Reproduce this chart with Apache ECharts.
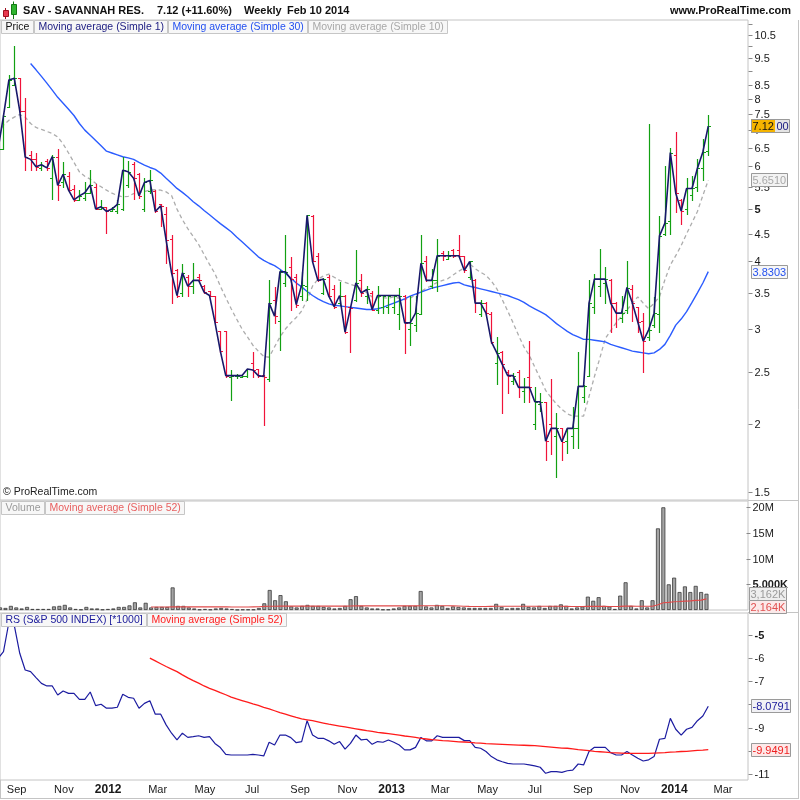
<!DOCTYPE html>
<html>
<head>
<meta charset="utf-8">
<script src="https://cdn.jsdelivr.net/npm/echarts@6.0.0/dist/echarts.min.js"></script>
<style>
html,body{margin:0;padding:0;background:#fff;}
#chart{width:800px;height:800px;}
</style>
</head>
<body>
<div id="chart"></div>
<script>
// ===================== DATA (weekly bars, first entry = week of 8 Aug 2011) =====================
const firstWeek = [2011, 7, 8];           // UTC year, month(0-based), day
const open = [
 6.2, 6.45, 7.74, 8.5, 8.73, 7.6, 6.3, 6.2, 5.95, 6.15,
 5.7, 6.25, 5.6, 5.75, 5.45, 5.2, 5.25, 5.35, 5.5, 5.0,
 5.05, 4.95, 4.95, 5.0, 5.55, 6.05, 5.8, 5.0, 5.4, 5.4,
 5.1, 4.9, 4.4, 3.85, 3.5, 3.75, 3.6, 3.75, 3.6, 3.52,
 3.46, 2.98, 2.98, 2.45, 2.46, 2.45, 2.46, 2.6, 2.53, 2.47,
 2.42, 3.4, 3.1, 3.65, 3.9, 3.75, 3.45, 3.6, 4.85, 4.1,
 3.5, 3.75, 3.55, 3.35, 3.45, 3.3, 3.4, 3.7, 3.45, 3.5,
 3.25, 3.3, 3.3, 3.3, 3.2, 3.46, 3.0, 3.05, 3.2, 4.0,
 3.6, 3.7, 4.15, 4.05, 4.2, 4.2, 4.1, 3.75, 3.7, 3.2,
 3.35, 3.2, 2.6, 2.72, 2.5, 2.4, 2.5, 2.3, 2.45, 2.0,
 2.18, 2.2, 2.0, 1.9, 1.965, 1.86, 1.9, 1.97, 2.25, 2.46,
 3.3, 3.6, 3.65, 3.7, 3.35, 3.15, 3.25, 3.55, 3.3, 3.1,
 2.9, 3.05, 3.2, 4.5, 4.75, 6.3, 5.2, 5.0, 5.3, 5.5, 5.95, 6.4
];
const high = [
 6.6, 7.45, 8.85, 10.0, 8.75, 8.03, 6.4, 6.36, 6.1, 6.2,
 6.3, 6.45, 6.1, 5.85, 5.55, 5.43, 5.6, 5.9, 5.57, 5.2,
 5.05, 5.05, 5.2, 6.25, 6.15, 6.12, 5.82, 5.7, 5.9, 5.42,
 5.12, 5.05, 4.48, 3.87, 3.95, 3.78, 3.97, 3.8, 3.62, 3.52,
 3.46, 2.98, 2.98, 2.52, 2.48, 2.47, 2.53, 2.72, 2.53, 2.47,
 3.69, 3.59, 3.85, 4.48, 4.07, 3.8, 3.83, 4.87, 4.87, 4.15,
 3.73, 3.78, 3.62, 3.67, 3.47, 3.31, 4.2, 3.8, 3.6, 3.52,
 3.6, 3.47, 3.47, 3.47, 3.58, 3.47, 3.46, 3.46, 4.48, 4.1,
 3.87, 4.4, 4.18, 4.18, 4.22, 4.48, 4.1, 4.0, 3.72, 3.4,
 3.37, 3.22, 2.9, 2.73, 2.52, 2.49, 2.52, 2.43, 2.85, 2.34,
 2.28, 2.2, 2.42, 2.1, 1.97, 1.97, 2.15, 2.72, 2.36, 3.7,
 3.8, 4.22, 3.9, 3.71, 3.36, 3.45, 4.0, 3.62, 3.3, 3.21,
 7.2, 3.44, 4.85, 6.0, 6.5, 6.95, 5.23, 5.7, 5.75, 6.2, 6.75, 7.45
];
const low = [
 6.1, 6.45, 7.74, 8.5, 7.55, 5.9, 5.9, 5.9, 5.9, 5.9,
 5.23, 5.2, 5.5, 5.4, 5.18, 5.2, 5.2, 5.35, 5.0, 5.0,
 4.52, 4.95, 4.92, 4.98, 5.5, 5.23, 5.25, 4.95, 5.36, 4.93,
 4.65, 3.97, 3.35, 3.44, 3.46, 3.46, 3.5, 3.68, 3.5, 3.45,
 3.09, 2.72, 2.45, 2.22, 2.44, 2.45, 2.45, 2.45, 2.45, 1.99,
 2.4, 3.08, 2.74, 3.6, 3.25, 3.3, 3.4, 3.4, 4.0, 3.68,
 3.48, 3.45, 3.28, 3.33, 2.95, 2.72, 3.38, 3.46, 3.35, 3.25,
 3.21, 3.21, 3.21, 3.21, 3.0, 2.71, 2.8, 2.98, 3.2, 3.68,
 3.58, 3.53, 4.02, 4.04, 4.08, 4.08, 3.82, 3.72, 3.22, 3.17,
 3.2, 2.83, 2.37, 2.1, 2.28, 2.37, 2.25, 2.2, 2.2, 1.96,
 2.12, 1.72, 1.76, 1.6, 1.72, 1.77, 1.81, 1.81, 2.2, 2.46,
 3.21, 3.46, 3.35, 2.96, 3.02, 3.09, 3.21, 3.1, 2.96, 2.5,
 2.86, 3.02, 2.96, 4.48, 4.5, 4.94, 4.7, 4.9, 5.2, 5.4, 5.65, 6.3
];
const close = [
 6.45, 7.44, 8.67, 8.73, 7.6, 6.24, 6.18, 5.99, 6.04, 5.96,
 6.25, 5.53, 5.8, 5.42, 5.2, 5.29, 5.36, 5.54, 5.0, 5.05,
 4.95, 5.0, 5.1, 5.9, 5.86, 5.7, 5.29, 5.6, 5.65, 4.95,
 5.07, 4.38, 3.81, 3.46, 3.81, 3.6, 3.69, 3.69, 3.51, 3.46,
 3.09, 2.73, 2.46, 2.46, 2.46, 2.46, 2.53, 2.52, 2.46, 2.45,
 3.35, 3.17, 3.83, 3.83, 3.71, 3.33, 3.62, 4.87, 4.0, 3.69,
 3.71, 3.45, 3.3, 3.46, 2.96, 3.28, 3.65, 3.5, 3.55, 3.26,
 3.46, 3.46, 3.46, 3.46, 3.46, 3.08, 3.08, 3.21, 3.97, 3.69,
 3.69, 4.1, 4.1, 4.1, 4.1, 4.1, 3.85, 4.0, 3.35, 3.35,
 3.21, 2.84, 2.71, 2.58, 2.46, 2.46, 2.34, 2.34, 2.34, 2.2,
 2.2, 1.86, 1.965, 1.965, 1.856, 1.965, 1.965, 2.35, 2.35, 3.35,
 3.71, 3.71, 3.71, 3.35, 3.21, 3.21, 3.58, 3.35, 3.09, 2.85,
 2.99, 3.21, 4.46, 4.71, 6.36, 5.35, 4.96, 5.46, 5.46, 5.95, 6.38, 7.12
];
// Simple moving average 30 (starts at week index 6)
const ma30Start = 6;
const ma30 = [
 9.3, 9.05, 8.8, 8.55, 8.3, 8.05, 7.85, 7.65, 7.45, 7.2,
 7.0, 6.85, 6.7, 6.55, 6.4, 6.35, 6.3, 6.25, 6.22, 6.18,
 6.1, 6.03, 5.97, 5.92, 5.83, 5.7, 5.58, 5.46, 5.37, 5.27,
 5.16, 5.07, 4.97, 4.88, 4.79, 4.7, 4.62, 4.54, 4.44, 4.35,
 4.26, 4.17, 4.08, 4.02, 3.97, 3.93, 3.87, 3.8, 3.73, 3.65,
 3.59, 3.52, 3.46, 3.41, 3.37, 3.34, 3.32, 3.31, 3.3, 3.29,
 3.28, 3.27, 3.26, 3.26, 3.27, 3.29, 3.32, 3.35, 3.38, 3.41,
 3.45, 3.48, 3.51, 3.54, 3.57, 3.59, 3.61, 3.63, 3.65, 3.66,
 3.62, 3.6, 3.58, 3.56, 3.54, 3.52, 3.5, 3.48, 3.46, 3.43,
 3.4, 3.36, 3.31, 3.27, 3.23, 3.19, 3.13, 3.07, 3.02, 2.97,
 2.93, 2.9, 2.87, 2.87, 2.86, 2.85, 2.84, 2.81, 2.79, 2.77,
 2.75, 2.73, 2.72, 2.71, 2.7, 2.71, 2.75, 2.81, 2.92, 3.05,
 3.13, 3.23, 3.36, 3.5, 3.65, 3.8303
];
// Simple moving average 10 (all weeks)
const ma10 = [
 6.9, 7.15, 7.3, 7.4, 7.48, 7.4, 7.2, 7.08, 7.02, 6.96,
 6.9, 6.8, 6.6, 6.35, 6.1, 5.86, 5.75, 5.68, 5.58, 5.5,
 5.42, 5.35, 5.3, 5.27, 5.28, 5.34, 5.37, 5.39, 5.42, 5.43,
 5.42, 5.38, 5.3, 5.0, 4.78, 4.6, 4.45, 4.3, 4.12, 3.95,
 3.8, 3.6, 3.43, 3.27, 3.13, 3.0, 2.9, 2.8, 2.73, 2.67,
 2.66, 2.78, 2.9, 3.0, 3.08, 3.15, 3.24, 3.4, 3.6, 3.71,
 3.76, 3.79, 3.74, 3.69, 3.66, 3.63, 3.6, 3.56, 3.5, 3.44,
 3.43, 3.43, 3.42, 3.44, 3.42, 3.4, 3.42, 3.47, 3.52, 3.57,
 3.61, 3.66, 3.69, 3.72, 3.78, 3.84, 3.89, 3.96, 3.88, 3.82,
 3.77, 3.68, 3.56, 3.4, 3.24, 3.08, 2.92, 2.78, 2.68, 2.55,
 2.43, 2.31, 2.24, 2.18, 2.13, 2.09, 2.07, 2.07, 2.07, 2.25,
 2.45, 2.65, 2.88, 2.98, 3.08, 3.17, 3.25, 3.35, 3.44, 3.35,
 3.27, 3.35, 3.44, 3.7, 3.94, 4.1, 4.28, 4.5, 4.72, 4.95, 5.3, 5.651
];
// Volume in millions of shares
const volumeM = [
 0.5, 0.4, 0.8, 0.5, 0.3, 0.6, 0.2, 0.2, 0.2, 0.2,
 0.7, 0.8, 1.0, 0.5, 0.2, 0.1, 0.6, 0.3, 0.3, 0.1,
 0.2, 0.3, 0.6, 0.6, 0.9, 1.5, 0.5, 1.4, 0.5, 0.6,
 0.6, 0.6, 4.4, 0.8, 0.8, 0.5, 0.3, 0.1, 0.2, 0.1,
 0.3, 0.4, 0.3, 0.2, 0.05, 0.1, 0.1, 0.1, 0.4, 1.3,
 3.9, 1.9, 2.9, 1.7, 0.7, 0.5, 0.8, 1.0, 0.8, 0.8,
 0.6, 0.5, 0.3, 0.4, 0.8, 2.1, 2.7, 0.8, 0.5, 0.3,
 0.3, 0.1, 0.1, 0.3, 0.5, 0.8, 0.8, 0.8, 3.7, 0.7,
 0.5, 1.0, 0.8, 0.4, 0.7, 0.6, 0.5, 0.4, 0.4, 0.4,
 0.4, 0.4, 1.2, 0.6, 0.3, 0.4, 0.4, 1.2, 0.6, 0.5,
 0.8, 0.4, 0.8, 0.8, 1.1, 0.8, 0.3, 0.5, 0.7, 2.6,
 1.8, 2.5, 0.8, 0.7, 0.2, 2.8, 5.4, 0.8, 0.3, 1.9,
 0.5, 1.9, 15.9, 20.0, 5.0, 6.3, 3.5, 4.6, 3.5, 4.7, 3.5, 3.162
];
// 52-week moving averages (start at week index 28)
const ma52Start = 28;
const volMa52 = [
 0.58, 0.58, 0.58, 0.58, 0.6, 0.6, 0.6, 0.6, 0.6, 0.6,
 0.6, 0.6, 0.6, 0.6, 0.6, 0.58, 0.58, 0.58, 0.58, 0.6,
 0.62, 0.7, 0.72, 0.74, 0.76, 0.76, 0.76, 0.76, 0.76, 0.76,
 0.76, 0.76, 0.76, 0.76, 0.75, 0.75, 0.76, 0.78, 0.8, 0.8,
 0.8, 0.8, 0.8, 0.8, 0.8, 0.8, 0.8, 0.8, 0.8, 0.8,
 0.82, 0.82, 0.82, 0.82, 0.82, 0.82, 0.8, 0.78, 0.74, 0.7,
 0.68, 0.68, 0.68, 0.7, 0.72, 0.72, 0.72, 0.72, 0.74, 0.74,
 0.74, 0.72, 0.72, 0.72, 0.72, 0.72, 0.72, 0.7, 0.68, 0.68,
 0.68, 0.7, 0.7, 0.7, 0.7, 0.68, 0.68, 0.7, 0.75, 0.75,
 0.74, 0.74, 0.72, 0.74, 1.03, 1.4, 1.48, 1.6, 1.65, 1.73,
 1.78, 1.87, 1.93, 2.164
];
// Relative strength vs S&P 500 (*1000)
const rs = [
 -6.01, -5.72, -4.45, -4.6, -5.79, -6.51, -6.58, -6.84, -7.09, -7.2,
 -7.2, -7.59, -7.42, -7.52, -7.52, -7.78, -7.78, -7.46, -8.05, -7.99,
 -8.16, -8.16, -8.12, -7.56, -7.69, -7.73, -8.16, -7.95, -7.84, -8.42,
 -8.42, -8.88, -9.24, -9.53, -9.24, -9.42, -9.39, -9.35, -9.42, -9.39,
 -9.68, -9.86, -10.15, -10.18, -10.18, -10.18, -10.18, -10.15, -10.18, -10.22,
 -9.63, -9.75, -9.32, -9.32, -9.43, -9.65, -9.6, -8.7, -9.32, -9.46,
 -9.46, -9.57, -9.72, -9.6, -9.93, -9.68, -9.32, -9.53, -9.5, -9.72,
 -9.6, -9.63, -9.53, -9.63, -9.75, -9.96, -9.96, -9.85, -9.42, -9.57,
 -9.57, -9.35, -9.42, -9.42, -9.42, -9.42, -9.56, -9.56, -9.85, -9.89,
 -10.03, -10.25, -10.39, -10.47, -10.54, -10.57, -10.57, -10.57, -10.61, -10.65,
 -10.71, -10.97, -10.9, -10.9, -10.93, -10.86, -10.83, -10.57, -10.61, -10.03,
 -9.85, -9.85, -9.85, -10.08, -10.18, -10.18, -10.03, -10.18, -10.32, -10.44,
 -10.39, -10.25, -9.5, -9.46, -8.6, -9.07, -9.32, -9.07, -8.99, -8.7, -8.5, -8.0791
];
const rsMa52 = [
 -6.0, -6.12, -6.24, -6.36, -6.47, -6.58, -6.72, -6.85, -6.97, -7.08,
 -7.2, -7.3, -7.39, -7.49, -7.58, -7.68, -7.76, -7.83, -7.9, -7.97,
 -8.04, -8.12, -8.19, -8.27, -8.35, -8.42, -8.49, -8.56, -8.62, -8.66,
 -8.7, -8.75, -8.8, -8.85, -8.89, -8.93, -8.97, -9.01, -9.05, -9.09,
 -9.13, -9.16, -9.2, -9.23, -9.26, -9.29, -9.32, -9.36, -9.39, -9.42,
 -9.46, -9.49, -9.52, -9.54, -9.56, -9.57, -9.59, -9.61, -9.62, -9.64,
 -9.66, -9.67, -9.69, -9.7, -9.71, -9.72, -9.73, -9.74, -9.75, -9.76,
 -9.77, -9.78, -9.8, -9.82, -9.84, -9.86, -9.88, -9.89, -9.92, -9.95,
 -9.97, -9.99, -10.02, -10.04, -10.06, -10.08, -10.09, -10.1, -10.11, -10.11,
 -10.11, -10.11, -10.11, -10.1, -10.09, -10.08, -10.06, -10.05, -10.03, -10.02,
 -10.0, -9.98, -9.97, -9.9491
];
// Axis tick values / labels
const priceTicks      = [11, 10.5, 10, 9.5, 9, 8.5, 8, 7.5, 7, 6.5, 6, 5.5, 5, 4.5, 4, 3.5, 3, 2.5, 2, 1.5];
const priceTickLabels = ['', '10.5', '', '9.5', '', '8.5', '8', '7.5', '7', '6.5', '6', '5.5', '5', '4.5', '4', '3.5', '3', '2.5', '2', '1.5'];
const volTicks        = [20, 15, 10, 5];
const volTickLabels   = ['20M', '15M', '10M', '5,000K'];
const rsTicks         = [-5, -6, -7, -8, -9, -10, -11];
const rsTickLabels    = ['-5', '-6', '-7', '-8', '-9', '-10', '-11'];
const boldTickValues  = [5, -5];
const xLabelDates = ['2011-09-01','2011-11-01','2012-01-01','2012-03-01','2012-05-01','2012-07-01','2012-09-01','2012-11-01',
                     '2013-01-01','2013-03-01','2013-05-01','2013-07-01','2013-09-01','2013-11-01','2014-01-01','2014-03-01'];
const xLabelTexts = ['Sep','Nov','2012','Mar','May','Jul','Sep','Nov','2013','Mar','May','Jul','Sep','Nov','2014','Mar'];

// ===================== STYLE / LAYOUT =====================
const FONT = '"Liberation Sans", Arial, Helvetica, sans-serif';
const F11 = '11px ' + FONT;
const FLEG = '10.5px ' + FONT;
const FTITLE = 'bold 11px ' + FONT;
const UP = '#12a012', DOWN = '#f0133a';
const DAY = 86400000;
const t0 = Date.UTC(firstWeek[0], firstWeek[1], firstWeek[2]);
const weeks = close.map((_, k) => t0 + k * 7 * DAY);
const xMin = Date.UTC(2011, 7, 10, 12), xMax = Date.UTC(2014, 3, 2, 7);

const mctx = document.createElement('canvas').getContext('2d');
function textW(t, font) { mctx.font = font; return mctx.measureText(t).width; }

// OHLC bars
function renderOHLC(params, api) {
  const t = api.value(0), o = api.value(1), c = api.value(2), l = api.value(3), h = api.value(4);
  const pH = api.coord([t, h]), pL = api.coord([t, l]), pO = api.coord([t, o]), pC = api.coord([t, c]);
  const col = c >= o ? UP : DOWN;
  const x = Math.round(pH[0]) + 0.5;
  const yo = Math.round(pO[1]) + 0.5, yc = Math.round(pC[1]) + 0.5;
  return { type: 'group', children: [
    { type: 'line', shape: { x1: x, y1: Math.round(pH[1]), x2: x, y2: Math.round(pL[1]) + 1 }, style: { stroke: col, lineWidth: 1.2 } },
    { type: 'line', shape: { x1: x - 2.5, y1: yo, x2: x, y2: yo }, style: { stroke: col, lineWidth: 1 } },
    { type: 'line', shape: { x1: x, y1: yc, x2: x + 2.5, y2: yc }, style: { stroke: col, lineWidth: 1 } }
  ]};
}

function tickSeries(idx, vals, labels) {
  return {
    type: 'custom', xAxisIndex: idx, yAxisIndex: idx, clip: false, silent: true, z: 6,
    data: vals.map(v => [xMax, v]),
    renderItem: function (params, api) {
      const p = api.coord([api.value(0), api.value(1)]);
      const i = params.dataIndex;
      const x = Math.round(p[0]) + 0.5, y = Math.round(p[1]) + 0.5;
      const ch = [{ type: 'line', shape: { x1: x, y1: y, x2: x + 4, y2: y }, style: { stroke: '#8a8a8a', lineWidth: 1 } }];
      if (labels[i]) {
        const bold = boldTickValues.indexOf(vals[i]) >= 0;
        ch.push({ type: 'text', x: x + 6, y: y, style: { text: labels[i], fill: '#1a1a1a',
          font: (bold ? 'bold ' : '') + F11, align: 'left', verticalAlign: 'middle', textAlign: 'left', textVerticalAlign: 'middle' } });
      }
      return { type: 'group', children: ch };
    }
  };
}

function boxSeries(idx, boxes) {
  return {
    type: 'custom', xAxisIndex: idx, yAxisIndex: idx, clip: false, silent: true, z: 8,
    data: boxes.map(b => [xMax, b.v]),
    renderItem: function (params, api) {
      const b = boxes[params.dataIndex];
      const p = api.coord([api.value(0), api.value(1)]);
      let x = Math.round(p[0]) + 3;
      const y = Math.round(p[1]) + (b.dy || 0);
      const x0 = x;
      const ch = [];
      b.parts.forEach(part => {
        const w = Math.round(textW(part[0], F11)) + 3;
        ch.push({ type: 'rect', shape: { x: x, y: y - 7, width: w, height: 14 }, style: { fill: part[1] } });
        ch.push({ type: 'text', x: x + 1.5, y: y + 0.5, style: { text: part[0], fill: part[2], font: F11,
          align: 'left', verticalAlign: 'middle', textAlign: 'left', textVerticalAlign: 'middle' } });
        x += w;
      });
      ch.push({ type: 'rect', shape: { x: x0 + 0.5, y: y - 6.5, width: x - x0 - 1, height: 13 }, style: { fill: 'none', stroke: '#9a9a9a', lineWidth: 1 } });
      return { type: 'group', children: ch };
    }
  };
}

const last = a => a[a.length - 1];
const fmtK = v => Math.round(v * 1000).toLocaleString('en-US') + 'K';
const cs = last(close).toFixed(4);

const priceBoxes = [
  { v: last(ma10), parts: [[last(ma10).toFixed(4), '#f3f3f3', '#a8a8a8']] },
  { v: last(ma30), parts: [[last(ma30).toFixed(4), '#f7f7f7', '#2350f0']] },
  { v: last(close), parts: [[cs.slice(0, 4), '#f5b400', '#111'], [cs.slice(4), '#e4e4e4', '#1a1a80']] }
];
const volBoxes = [
  { v: last(volMa52), dy: 8, parts: [[fmtK(last(volMa52)), '#fbe9e9', '#e05050']] },
  { v: last(volumeM), parts: [[fmtK(last(volumeM)), '#eeeeee', '#9a9a9a']] }
];
const rsBoxes = [
  { v: last(rs), parts: [[last(rs).toFixed(4), '#f1f1f5', '#1a1a9a']] },
  { v: last(rsMa52), parts: [[last(rsMa52).toFixed(4), '#fde8e8', '#ee2020']] }
];

function legendCells(items, x0, yTop) {
  let x = x0;
  const els = [];
  items.forEach(([t, c]) => {
    const w = Math.round(textW(t, FLEG)) + 8;
    els.push({ type: 'rect', z: 20, shape: { x: x + 0.5, y: yTop + 0.5, width: w, height: 13 }, style: { fill: '#f7f7f7', stroke: '#c6c6c6', lineWidth: 1 } });
    els.push({ type: 'text', z: 21, x: x + 4.5, y: yTop + 7.5, style: { text: t, font: FLEG, fill: c, verticalAlign: 'middle', textVerticalAlign: 'middle' } });
    x += w + 1;
  });
  return els;
}

const graphics = [].concat(
  [
    { type: 'line', z: 1, shape: { x1: 798.5, y1: 20, x2: 798.5, y2: 799 }, style: { stroke: '#c4c4c4', lineWidth: 1 } },
    { type: 'line', z: 1, shape: { x1: 0, y1: 798.5, x2: 799, y2: 798.5 }, style: { stroke: '#c4c4c4', lineWidth: 1 } },
    { type: 'line', z: 1, shape: { x1: 0.5, y1: 780, x2: 0.5, y2: 799 }, style: { stroke: '#c4c4c4', lineWidth: 1 } },
    { type: 'line', z: 1, shape: { x1: 748, y1: 500.5, x2: 799, y2: 500.5 }, style: { stroke: '#c4c4c4', lineWidth: 1 } },
    { type: 'line', z: 1, shape: { x1: 748, y1: 612.5, x2: 799, y2: 612.5 }, style: { stroke: '#c4c4c4', lineWidth: 1 } },
    // candle icon
    { type: 'line', z: 20, shape: { x1: 5.5, y1: 8, x2: 5.5, y2: 19 }, style: { stroke: '#a01020', lineWidth: 1 } },
    { type: 'rect', z: 21, shape: { x: 3.5, y: 10.5, width: 5, height: 6 }, style: { fill: '#e8384f', stroke: '#a01020', lineWidth: 1 } },
    { type: 'line', z: 20, shape: { x1: 13.5, y1: 1.5, x2: 13.5, y2: 19 }, style: { stroke: '#137a13', lineWidth: 1 } },
    { type: 'rect', z: 21, shape: { x: 11.5, y: 4.5, width: 5, height: 10 }, style: { fill: '#2fb52f', stroke: '#137a13', lineWidth: 1 } },
    { type: 'text', z: 20, x: 23, y: 11, style: { text: 'SAV - SAVANNAH RES.', font: FTITLE, fill: '#111', verticalAlign: 'middle', textVerticalAlign: 'middle' } },
    { type: 'text', z: 20, x: 157, y: 11, style: { text: '7.12 (+11.60%)', font: FTITLE, fill: '#111', verticalAlign: 'middle', textVerticalAlign: 'middle' } },
    { type: 'text', z: 20, x: 244, y: 11, style: { text: 'Weekly', font: FTITLE, fill: '#111', verticalAlign: 'middle', textVerticalAlign: 'middle' } },
    { type: 'text', z: 20, x: 287, y: 11, style: { text: 'Feb 10 2014', font: FTITLE, fill: '#111', verticalAlign: 'middle', textVerticalAlign: 'middle' } },
    { type: 'text', z: 20, x: 791, y: 11, style: { text: 'www.ProRealTime.com', font: FTITLE, fill: '#111', align: 'right', textAlign: 'right', verticalAlign: 'middle', textVerticalAlign: 'middle' } },
    { type: 'text', z: 20, x: 3, y: 492, style: { text: '\u00A9 ProRealTime.com', font: '10.5px ' + FONT, fill: '#222', verticalAlign: 'middle', textVerticalAlign: 'middle' } }
  ],
  legendCells([['Price', '#111'], ['Moving average (Simple 1)', '#1a1a80'], ['Moving average (Simple 30)', '#2350f0'], ['Moving average (Simple 10)', '#a8a8a8']], 1, 20),
  legendCells([['Volume', '#9a9a9a'], ['Moving average (Simple 52)', '#e86060']], 1, 501),
  legendCells([['RS (S&P 500 INDEX) [*1000]', '#1a1a9a'], ['Moving average (Simple 52)', '#ff2020']], 1, 613)
);

const gridBase = { left: 0, width: 748, show: true, borderColor: '#c4c4c4', borderWidth: 1, backgroundColor: 'transparent' };
const xAxisBase = { type: 'time', min: xMin, max: xMax, axisLabel: { show: false }, axisTick: { show: false }, axisLine: { show: false }, splitLine: { show: false } };
const yHidden = { position: 'right', axisLabel: { show: false }, axisTick: { show: false }, axisLine: { show: false }, splitLine: { show: false } };

const option = {
  animation: false,
  backgroundColor: '#ffffff',
  grid: [
    Object.assign({ top: 20, height: 480 }, gridBase),
    Object.assign({ top: 501, height: 109 }, gridBase),
    Object.assign({ top: 613, height: 167 }, gridBase)
  ],
  xAxis: [0, 1, 2].map(g => Object.assign({ gridIndex: g }, xAxisBase)),
  yAxis: [
    Object.assign({ gridIndex: 0, type: 'log', logBase: 10, min: 1.448, max: 11.19 }, yHidden),
    Object.assign({ gridIndex: 1, type: 'value', min: 0, max: 21.23 }, yHidden),
    Object.assign({ gridIndex: 2, type: 'value', min: -11.26, max: -4.05 }, yHidden)
  ],
  graphic: { elements: graphics },
  series: [
    { type: 'line', name: 'MA10', xAxisIndex: 0, yAxisIndex: 0, showSymbol: false, z: 2,
      data: ma10.map((v, k) => [weeks[k], v]),
      lineStyle: { color: '#adadad', width: 1.3, type: [4, 3] } },
    { type: 'line', name: 'MA30', xAxisIndex: 0, yAxisIndex: 0, showSymbol: false, z: 2,
      data: ma30.map((v, j) => [weeks[ma30Start + j], v]),
      lineStyle: { color: '#2b5cff', width: 1.4 } },
    { type: 'custom', name: 'Price', xAxisIndex: 0, yAxisIndex: 0, clip: true, z: 3,
      data: weeks.map((t, k) => [t, open[k], close[k], low[k], high[k]]),
      encode: { x: 0, y: [1, 2, 3, 4] }, renderItem: renderOHLC },
    { type: 'line', name: 'Close', xAxisIndex: 0, yAxisIndex: 0, showSymbol: false, z: 4,
      data: close.map((v, k) => [weeks[k], v]),
      lineStyle: { color: '#18186a', width: 1.6 } },
    { type: 'bar', name: 'Volume', xAxisIndex: 1, yAxisIndex: 1, barWidth: 4, z: 2,
      data: volumeM.map((v, k) => [weeks[k], v]),
      itemStyle: { color: '#a4a4a4', borderColor: '#3a3a3a', borderWidth: 0.8 } },
    { type: 'line', name: 'VolMA', xAxisIndex: 1, yAxisIndex: 1, showSymbol: false, z: 3,
      data: volMa52.map((v, j) => [weeks[ma52Start + j], v]),
      lineStyle: { color: '#e04a4a', width: 1.1 } },
    { type: 'line', name: 'RS', xAxisIndex: 2, yAxisIndex: 2, showSymbol: false, z: 3,
      data: rs.map((v, k) => [weeks[k], v]),
      lineStyle: { color: '#1c1ca0', width: 1.2 } },
    { type: 'line', name: 'RSMA', xAxisIndex: 2, yAxisIndex: 2, showSymbol: false, z: 3,
      data: rsMa52.map((v, j) => [weeks[ma52Start + j], v]),
      lineStyle: { color: '#ff1a1a', width: 1.3 } },
    tickSeries(0, priceTicks, priceTickLabels),
    tickSeries(1, volTicks, volTickLabels),
    tickSeries(2, rsTicks, rsTickLabels),
    boxSeries(0, priceBoxes),
    boxSeries(1, volBoxes),
    boxSeries(2, rsBoxes),
    { type: 'custom', name: 'xLabels', xAxisIndex: 2, yAxisIndex: 2, clip: false, silent: true, z: 6,
      data: xLabelDates.map(d => [Date.parse(d + 'T00:00:00Z'), -11.26]),
      renderItem: function (params, api) {
        const p = api.coord([api.value(0), api.value(1)]);
        const txt = xLabelTexts[params.dataIndex];
        const bold = /^\d{4}$/.test(txt);
        return { type: 'text', x: p[0] - (bold ? 3 : 0), y: p[1] + 10, style: { text: txt, fill: '#1a1a1a', font: (bold ? 'bold 12px ' : '11px ') + FONT,
          align: 'center', verticalAlign: 'middle', textAlign: 'center', textVerticalAlign: 'middle' } };
      } }
  ]
};

const chart = echarts.init(document.getElementById('chart'), null, { renderer: 'canvas', width: 800, height: 800 });
chart.setOption(option);
</script>
</body>
</html>
